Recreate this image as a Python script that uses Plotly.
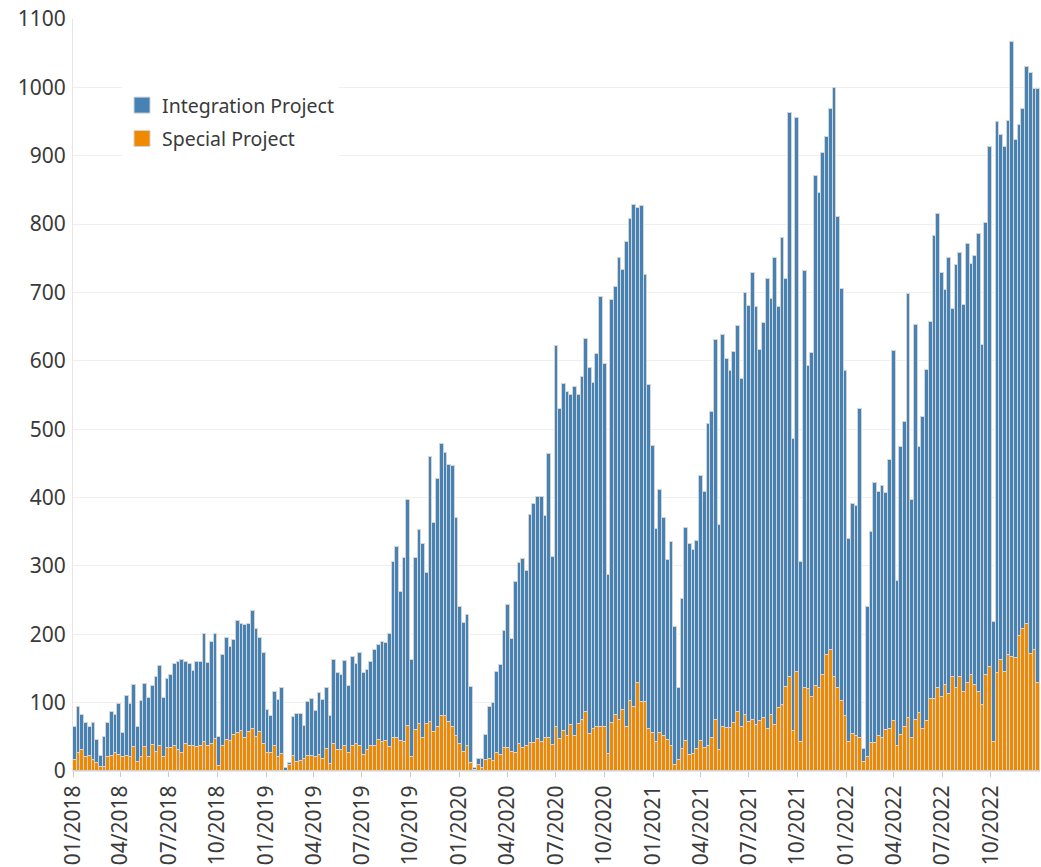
import pandas as pd
import plotly.graph_objects as go

# weekly buckets, first week starts Monday 2018-01-01
start_week = "2018-01-01"
# quarterly tick marks shown on the x axis
tick_months = pd.date_range("2018-01-01", "2022-10-01", freq="QS")

integration = [
    64, 94, 82, 70, 65, 70, 45, 22, 50, 70, 87, 82, 98, 56, 109, 98, 126, 65, 102, 127, 107, 124,
    138, 154, 107, 135, 140, 156, 160, 163, 159, 156, 147, 160, 160, 200, 158, 188, 200, 50, 169, 195,
    182, 191,
    219, 215, 214, 215, 234, 208, 194, 173, 89, 81, 115, 104, 121, 5, 11, 79, 83, 84, 66, 101, 105, 88,
    114, 104, 121, 80, 163, 143, 140, 161, 124, 167, 157, 172, 144, 148, 160, 177, 184, 188, 187, 200,
    305, 327,
    262, 311, 396, 163, 311, 352, 332, 289, 459, 363, 427, 479, 465, 448, 446, 370, 240, 216, 228, 123,
    4, 18, 18, 52, 93, 100, 145, 155, 205, 243, 193, 277, 304, 310, 293, 375, 390, 401, 401, 373, 463,
    313, 621, 530, 566,
    554, 550, 561, 550, 577, 632, 589, 568, 610, 694, 596, 286, 689, 708, 750, 733, 774, 807, 828, 824,
    826, 726, 564, 476, 354, 411, 370, 308, 335, 211, 122, 252, 356, 332, 323, 337, 432, 408, 507, 525,
    631, 360, 638,
    602, 585, 613, 651, 573, 699, 680, 729, 678, 616, 655, 720, 690, 750, 678, 779, 720, 962, 485, 955,
    305, 732, 592, 611, 870, 845, 904, 927, 968, 999, 811, 705, 585, 340, 391, 387, 530, 32, 240, 349,
    421, 408,
    417, 406, 455, 615, 278, 474, 510, 698, 397, 652, 474, 518, 586, 657, 782, 815, 728, 703, 751, 676,
    740, 758, 682, 771, 742, 754, 785, 623, 801, 913, 218, 949, 930, 913, 951, 1067, 923, 945, 968,
    1030, 1021, 997, 997,
]

special = [
    16, 26, 30, 20, 22, 16, 11, 6, 6, 20, 22, 26, 23, 20, 22, 20, 35, 13, 21, 35, 21, 38, 28, 36, 21,
    33, 33, 37, 30, 27, 39, 37, 36, 35, 37, 43, 36, 39, 47, 8, 37, 45, 44, 53,
    55, 59, 49, 57, 61, 50, 57, 40, 26, 26, 36, 21, 25, 0, 9, 22, 13, 15, 18, 22, 22, 21, 24, 18, 32,
    10, 40, 31, 31, 37, 26, 36, 39, 37, 24, 31, 36, 36, 46, 43, 44, 35, 49, 48,
    44, 43, 66, 20, 60, 69, 49, 69, 71, 57, 65, 80, 80, 71, 64, 51, 40, 28, 36, 12, 2, 9, 4, 16, 17,
    15, 26, 24, 33, 33, 28, 26, 40, 33, 36, 41, 41, 47, 42, 49, 49, 38, 64, 47, 58,
    51, 68, 51, 69, 74, 87, 54, 62, 65, 65, 65, 25, 70, 82, 75, 89, 65, 103, 94, 129, 101, 101, 62, 55,
    42, 55, 51, 46, 37, 9, 16, 32, 44, 23, 25, 32, 44, 34, 36, 48, 75, 30, 65,
    63, 63, 70, 87, 65, 82, 71, 75, 68, 73, 77, 62, 82, 68, 92, 97, 123, 137, 58, 145, 42, 122, 120,
    108, 124, 122, 141, 169, 177, 137, 121, 103, 80, 42, 54, 51, 48, 13, 20, 41, 41, 51,
    49, 60, 61, 73, 37, 53, 65, 78, 49, 75, 85, 62, 73, 106, 106, 121, 108, 126, 112, 138, 122, 138,
    116, 129, 141, 126, 116, 96, 140, 152, 43, 143, 163, 145, 169, 167, 165, 197, 208, 215, 171, 177,
    129,
]

weeks = pd.date_range(start_week, periods=len(integration), freq="7D")
week_ms = 7 * 24 * 3600 * 1000
x_end = weeks[-1] + pd.Timedelta(days=7)

BLUE = "#4682b4"
ORANGE = "#ee8900"
EDGE = "#d4d4d4"
TXT = "#3a3a3a"

fig = go.Figure()
fig.add_bar(x=weeks, y=integration, name="Integration Project", marker_color=BLUE,
            marker_line=dict(color=EDGE, width=1), offset=0, width=week_ms, showlegend=False)
fig.add_bar(x=weeks, y=special, name="Special Project", marker_color=ORANGE,
            marker_line=dict(color=EDGE, width=1), offset=0, width=week_ms, showlegend=False)

# legend entries with bigger square swatches
for nm, col in [("Integration Project", BLUE), ("Special Project", ORANGE)]:
    fig.add_scatter(x=[None], y=[None], mode="markers", name=nm, legendgroup=nm,
                    marker=dict(symbol="square", size=20, color=col, line=dict(color=EDGE, width=1)))

fig.update_layout(
    width=1041, height=867,
    barmode="overlay", bargap=0,
    plot_bgcolor="white", paper_bgcolor="white",
    font=dict(family="Noto Sans, Open Sans, sans-serif", size=21, color=TXT),
    margin=dict(l=73, r=1, t=19, b=96),
    legend=dict(x=0.0507, y=0.911, xanchor="left", yanchor="top", bgcolor="white",
                font=dict(size=19.5, color=TXT), tracegroupgap=5, itemwidth=30),
)
fig.update_xaxes(
    type="date", range=[weeks[0], x_end],
    tickvals=tick_months, tickformat="%m/%Y", tickangle=-90,
    ticks="outside", ticklen=5, tickcolor="#cccccc",
    showgrid=False, showline=True, linecolor="#e6e6e6", zeroline=False,
    ticklabeloverflow="allow", automargin=False,
)
fig.update_yaxes(
    range=[0, 1100], dtick=100, showgrid=True, gridcolor="#efefef",
    showline=True, linecolor="#e6e6e6", zeroline=False, ticks="", ticklabelstandoff=2,
    ticklabeloverflow="allow", automargin=False,
)

# drop the default 8px page margin so the figure fills the window
fig.write_html("out.html", config={"displayModeBar": False},
               post_script="document.body.style.margin='0';")
